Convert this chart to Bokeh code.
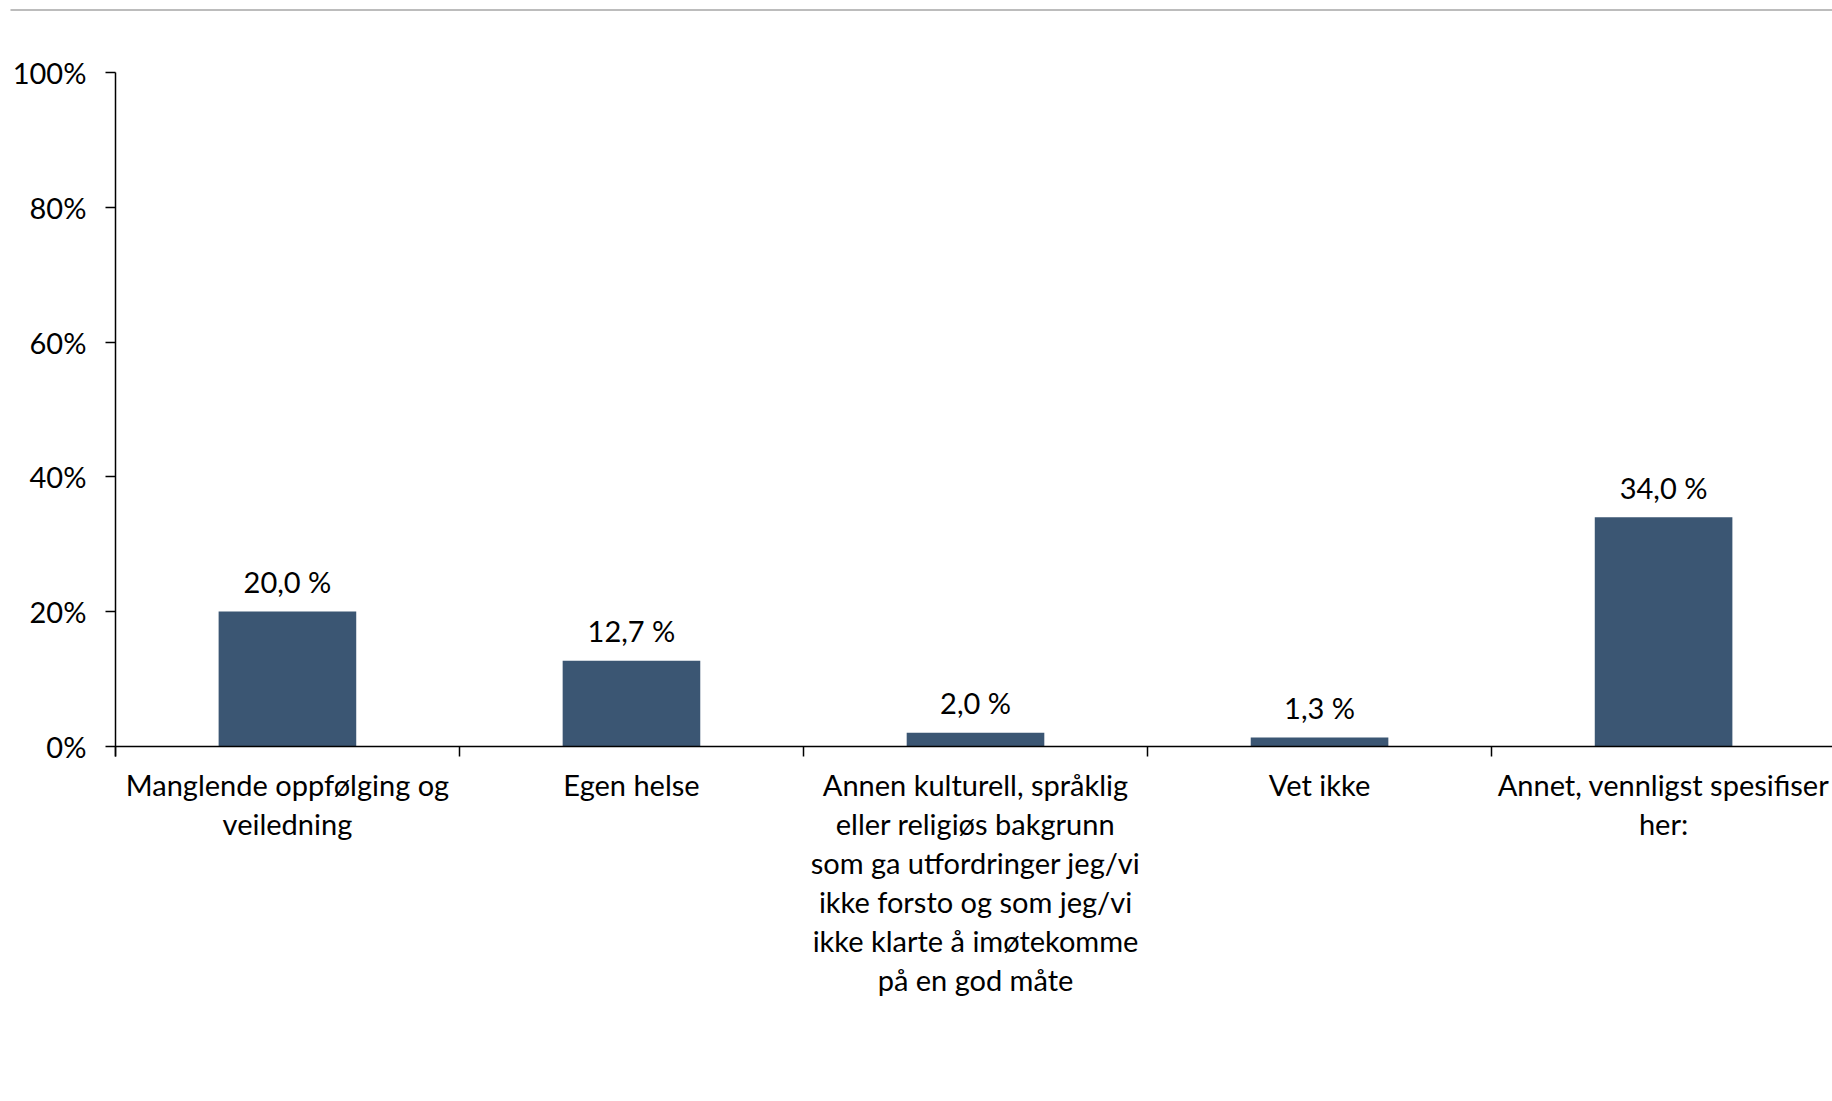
from bokeh.plotting import figure
from bokeh.models import Range1d, FixedTicker, PrintfTickFormatter, LinearAxis, BoxAnnotation, ColumnDataSource
from bokeh.embed import file_html
from bokeh.resources import INLINE
from bokeh.core.properties import value

# ---- data ----
categories = [
    "Manglende oppfølging og\nveiledning",
    "Egen helse",
    "Annen kulturell, språklig\neller religiøs bakgrunn\nsom ga utfordringer jeg/vi\nikke forsto og som jeg/vi\nikke klarte å imøtekomme\npå en god måte",
    "Vet ikke",
    "Annet, vennligst spesifiser\nher:",
]
values = [20.0, 12.7, 2.0, 1.3, 34.0]
value_labels = ["20,0 %", "12,7 %", "2,0 %", "1,3 %", "34,0 %"]
y_ticks = [0, 20, 40, 60, 80, 100]

positions = list(range(1, len(categories) + 1))
boundaries = [i + 0.5 for i in range(len(categories) + 1)]

FONT = "Lato"
FS = "29px"
BAR = "#3B5673"

src = ColumnDataSource(dict(x=positions, top=values, lab=value_labels))

p = figure(width=1832, height=1095, output_backend="svg", toolbar_location=None,
           x_range=Range1d(0.166, 5.491), y_range=Range1d(-51.86, 110.72),
           x_axis_location=None, y_axis_location=None, min_border=0,
           background_fill_color="white", border_fill_color="white")
p.outline_line_color = None
p.xgrid.visible = False
p.ygrid.visible = False

p.vbar(x="x", top="top", bottom=0, width=0.4, source=src, fill_color=BAR, line_color=None)
p.text(x="x", y="top", text="lab", source=src, text_align="center", text_baseline="alphabetic",
       y_offset=-30, text_font=value(FONT), text_font_size=FS, text_color="black")

# top gray rule of the chart area
p.add_layout(BoxAnnotation(left=0.195, bottom=109.2, top=109.42, fill_color="#A6A6A6",
                           fill_alpha=1.0, line_color=None))

xaxis = LinearAxis(fixed_location=0, bounds=(0.5, 5.5),
                   ticker=FixedTicker(ticks=positions, minor_ticks=boundaries),
                   major_label_overrides={pos: lab for pos, lab in zip(positions, categories)})
xaxis.axis_line_color = "black"
xaxis.axis_line_width = 1.5
xaxis.major_tick_line_color = None
xaxis.major_tick_out = 0
xaxis.major_tick_in = 0
xaxis.minor_tick_line_color = "black"
xaxis.minor_tick_line_width = 1.5
xaxis.minor_tick_out = 10
xaxis.minor_tick_in = 0
xaxis.major_label_standoff = 11
xaxis.major_label_text_font = FONT
xaxis.major_label_text_font_size = FS
xaxis.major_label_text_color = "black"
xaxis.major_label_text_line_height = 1.115
p.add_layout(xaxis, "below")

yaxis = LinearAxis(fixed_location=0.5, bounds=(-1.5, 100),
                   ticker=FixedTicker(ticks=y_ticks),
                   formatter=PrintfTickFormatter(format="%d%%"))
yaxis.axis_line_color = "black"
yaxis.axis_line_width = 1.5
yaxis.major_tick_line_color = "black"
yaxis.major_tick_line_width = 1.5
yaxis.major_tick_out = 10
yaxis.major_tick_in = 0
yaxis.minor_tick_line_color = None
yaxis.major_label_standoff = 19
yaxis.major_label_text_font = FONT
yaxis.major_label_text_font_size = FS
yaxis.major_label_text_color = "black"
p.add_layout(yaxis, "left")

open("out.html", "w").write(file_html(p, INLINE))
